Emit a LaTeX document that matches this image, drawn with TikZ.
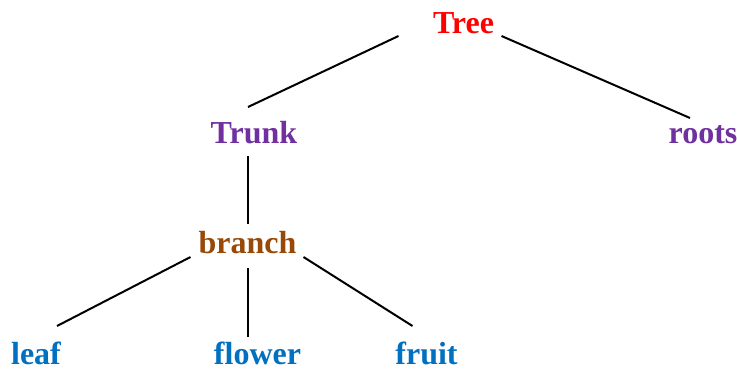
\documentclass[tikz,border=0pt]{standalone}
\usepackage{fontspec}
\setmainfont{Liberation Serif}
\definecolor{cred}{RGB}{255,0,0}
\definecolor{cpurple}{RGB}{112,48,160}
\definecolor{cbrown}{RGB}{152,72,7}
\definecolor{cblue}{RGB}{0,112,192}
\begin{document}
\begin{tikzpicture}[x=1pt,y=-1pt,
  lbl/.style={anchor=base,inner sep=0pt,font=\fontsize{32}{38}\selectfont\bfseries},
  edge/.style={line width=2pt,black}]
\useasboundingbox (0,0) rectangle (737,370);
\node[lbl,text=cred] (tree) at (463.5,33) {Tree};
\node[lbl,text=cpurple] (trunk) at (254,143) {Trunk};
\node[lbl,text=cpurple] (roots) at (703,143) {roots};
\node[lbl,text=cbrown] (branch) at (247.5,253) {branch};
\node[lbl,text=cblue] (leaf) at (36,364) {leaf};
\node[lbl,text=cblue] (flower) at (257.5,364) {flower};
\node[lbl,text=cblue] (fruit) at (426.5,364) {fruit};
\draw[edge] ([shift={(-65,3)}]tree.base) -- ([shift={(-6,-36)}]trunk.base);
\draw[edge] ([shift={(38,3)}]tree.base) -- ([shift={(-13,-25)}]roots.base);
\draw[edge] ([shift={(-6.5,13)}]trunk.base) -- ([shift={(0,-29)}]branch.base);
\draw[edge] ([shift={(-57,4)}]branch.base) -- ([shift={(21,-38)}]leaf.base);
\draw[edge] ([shift={(0,15)}]branch.base) -- ([shift={(-10,-27)}]flower.base);
\draw[edge] ([shift={(56,4)}]branch.base) -- ([shift={(-14,-38)}]fruit.base);
\end{tikzpicture}
\end{document}
